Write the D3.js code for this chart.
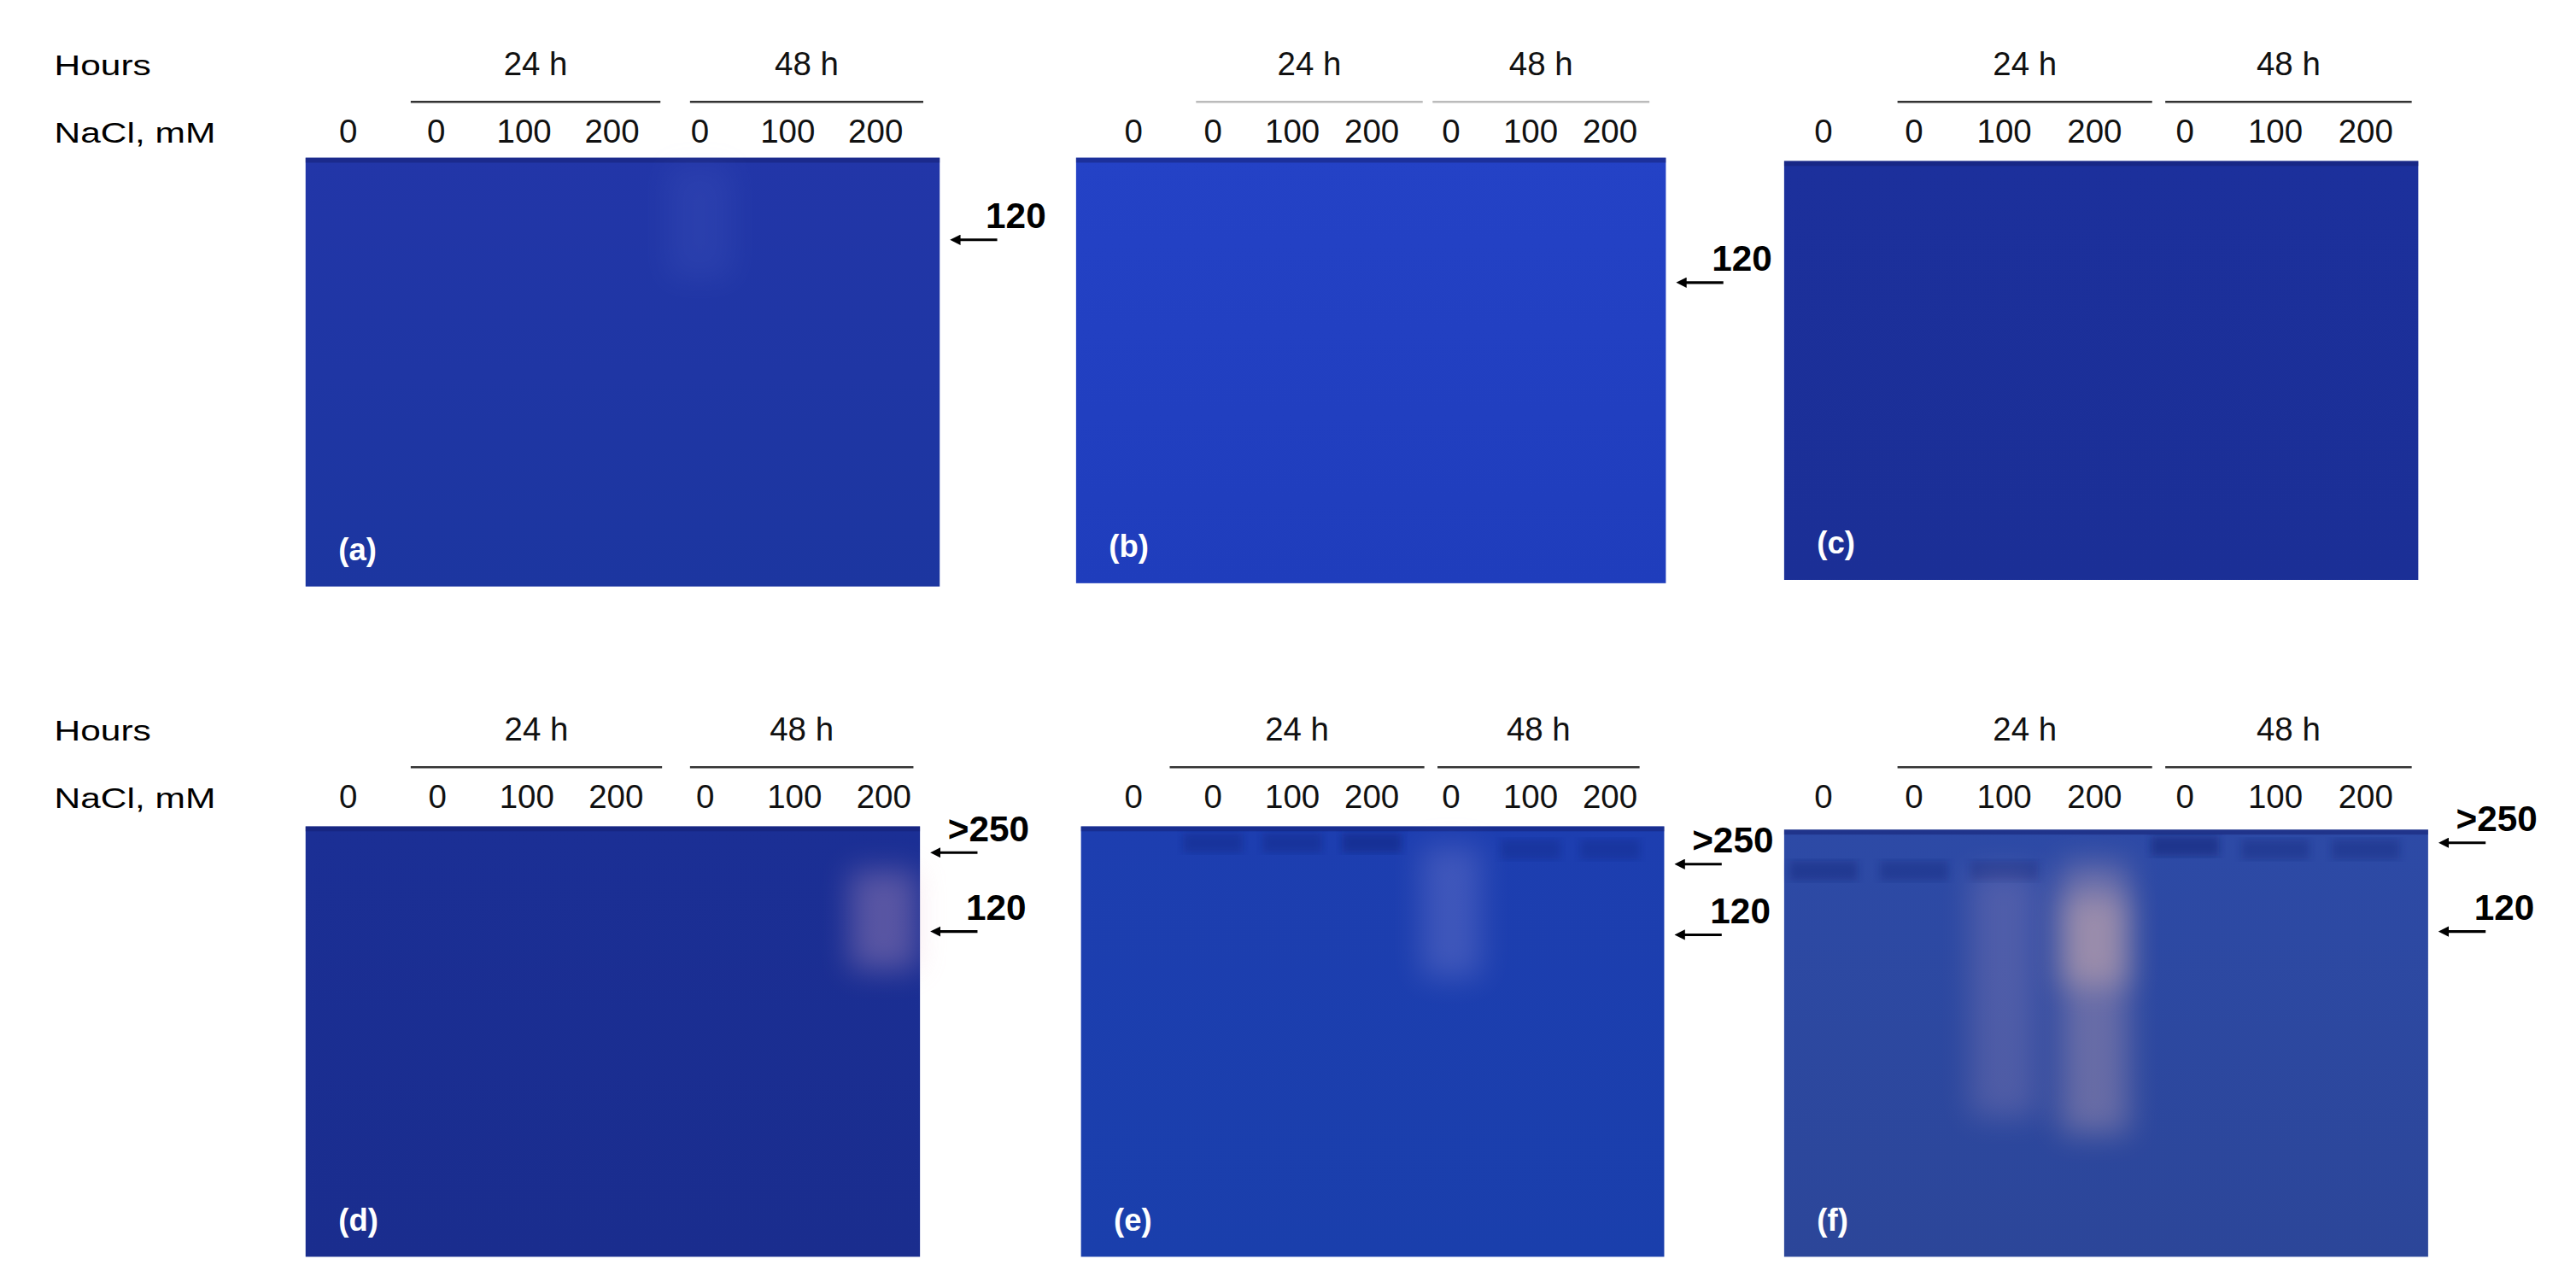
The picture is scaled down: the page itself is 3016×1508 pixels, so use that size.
<!DOCTYPE html>
<head>
  <meta charset="utf-8">
  <title>Zymogram gels</title>
  <style>
    body { margin: 0; background: #fff; }
    text { font-family: Arial, "Liberation Sans", sans-serif; }
  </style>
</head>
<body>
  <script src="https://cdn.jsdelivr.net/npm/d3@7"></script>
  <script>
    // lane labels (same for every panel)
    const lanes = ["0", "0", "100", "200", "0", "100", "200"];
    const panelIds = ["a", "b", "c", "d", "e", "f"];
    // gel box in layout units: x0, x1, y0, y1
    const gelX0 = [186, 655, 1086, 186, 658, 1086];
    const gelX1 = [572, 1014, 1472, 560, 1013, 1478];
    const gelY0 = [96, 96, 98, 503, 503, 505];
    const gelY1 = [357, 355, 353, 765, 765, 765];
    const gelTop = ["#2236a8", "#2442c6", "#1c309c", "#1b2f95", "#1d3eb0", "#2d4aa6"];
    const gelBottom = ["#1c36a0", "#1f3dbc", "#1b2f96", "#1a2d8e", "#1a3fac", "#2c4699"];
    // first and last lane label centre
    const laneFirst = [212, 690, 1110, 212, 690, 1110];
    const laneLast = [533, 980, 1440, 538, 980, 1440];
    // group lines: 24 h and 48 h
    const line24 = [[250, 402], [728, 866], [1155, 1310], [250, 403], [712, 867], [1155, 1310]];
    const line48 = [[420, 562], [872, 1004], [1318, 1468], [420, 556], [875, 998], [1318, 1468]];
    const lineColor = ["#333", "#bbb", "#333", "#333", "#333", "#333"];
    // marker arrows per panel: [label, y]
    const markers = [
      [["120", 146]], [["120", 172]], [],
      [[">250", 519], ["120", 567]], [[">250", 526], ["120", 569]], [[">250", 513], ["120", 567]]
    ];
    // activity smears: [panel, laneIndex, yTop, yBottom, opacity, colour]
    const smears = [
      [0, 4, 100, 170, 0.07, "#9fb0ff"],
      [3, 6, 530, 590, 0.3, "#e8b0c8"],
      [4, 4, 515, 595, 0.2, "#c8b8e8"],
      [5, 2, 530, 680, 0.18, "#e8b8c8"],
      [5, 3, 525, 690, 0.3, "#f0c0b8"],
      [5, 3, 545, 600, 0.35, "#f8c8b0"]
    ];
    // dark high-MW bands: [panel, laneIndex, y, opacity]
    const bands = [
      [4, 1, 513, 0.3], [4, 2, 513, 0.3], [4, 3, 513, 0.4], [4, 5, 517, 0.25], [4, 6, 517, 0.25],
      [5, 0, 530, 0.35], [5, 1, 530, 0.3], [5, 2, 530, 0.3], [5, 4, 515, 0.45], [5, 5, 517, 0.3], [5, 6, 517, 0.3]
    ];

    const W = 1568, H = 784;
    const svg = d3.select("body").append("svg")
      .attr("width", 3016).attr("height", 1508)
      .attr("viewBox", `0 0 ${W} ${H}`);
    const defs = svg.append("defs");
    defs.append("filter").attr("id", "blur").attr("x", "-80%").attr("y", "-50%")
      .attr("width", "260%").attr("height", "200%")
      .append("feGaussianBlur").attr("stdDeviation", 9);
    defs.append("filter").attr("id", "blur2")
      .append("feGaussianBlur").attr("stdDeviation", 2.5);
    const arrowM = defs.append("marker").attr("id", "arrowhead")
      .attr("viewBox", "0 0 10 10").attr("refX", 1).attr("refY", 5)
      .attr("markerWidth", 4).attr("markerHeight", 4).attr("orient", "auto-start-reverse");
    arrowM.append("path").attr("d", "M0,0L10,5L0,10z").attr("fill", "#000");

    const xScales = panelIds.map((p, i) =>
      d3.scalePoint().domain(d3.range(lanes.length)).range([laneFirst[i], laneLast[i]]));

    panelIds.forEach((p, i) => {
      const g = svg.append("g").attr("class", "panel-" + p);
      const grad = defs.append("linearGradient").attr("id", "grad" + i)
        .attr("x1", 0).attr("y1", 0).attr("x2", 0).attr("y2", 1);
      grad.append("stop").attr("offset", 0).attr("stop-color", gelTop[i]);
      grad.append("stop").attr("offset", 1).attr("stop-color", gelBottom[i]);
      g.append("rect")
        .attr("x", gelX0[i]).attr("y", gelY0[i])
        .attr("width", gelX1[i] - gelX0[i]).attr("height", gelY1[i] - gelY0[i])
        .attr("fill", `url(#grad${i})`);
      g.append("rect").attr("x", gelX0[i]).attr("y", gelY0[i])
        .attr("width", gelX1[i] - gelX0[i]).attr("height", 3)
        .attr("fill", "#141e70").attr("opacity", 0.5);

      const x = xScales[i];
      const lw = (laneLast[i] - laneFirst[i]) / 6 * 0.75;
      g.selectAll(".band").data(bands.filter(b => b[0] === i)).join("rect")
        .attr("x", d => x(d[1]) - lw / 2).attr("y", d => d[2] - 6)
        .attr("width", lw).attr("height", 12)
        .attr("fill", "#0d1a70").attr("opacity", d => d[3]).attr("filter", "url(#blur2)");
      g.selectAll(".smear").data(smears.filter(s => s[0] === i)).join("rect")
        .attr("x", d => x(d[1]) - lw / 2).attr("y", d => d[2])
        .attr("width", lw).attr("height", d => d[3] - d[2])
        .attr("fill", d => d[5]).attr("opacity", d => d[4]).attr("filter", "url(#blur)");

      const top = i < 3 ? 0 : 405;
      g.selectAll(".lane").data(lanes).join("text")
        .attr("x", (d, j) => x(j)).attr("y", top + 87)
        .attr("text-anchor", "middle").attr("font-size", 20).attr("fill", "#111")
        .text(d => d);
      [[line24[i], "24 h"], [line48[i], "48 h"]].forEach(([l, t]) => {
        g.append("line").attr("x1", l[0]).attr("x2", l[1])
          .attr("y1", top + 62).attr("y2", top + 62)
          .attr("stroke", lineColor[i]).attr("stroke-width", 1.3);
        g.append("text").attr("x", (l[0] + l[1]) / 2).attr("y", top + 46)
          .attr("text-anchor", "middle").attr("font-size", 20).attr("fill", "#111").text(t);
      });
      g.append("text").attr("x", gelX0[i] + 20).attr("y", gelY1[i] - 16)
        .attr("font-size", 19).attr("font-weight", "bold").attr("fill", "#fff")
        .text(`(${p})`);
      markers[i].forEach(([lab, y]) => {
        g.append("line").attr("x1", gelX1[i] + 35).attr("x2", gelX1[i] + 12)
          .attr("y1", y).attr("y2", y).attr("stroke", "#000").attr("stroke-width", 1.6)
          .attr("marker-end", "url(#arrowhead)");
        g.append("text").attr("x", gelX1[i] + (lab === "120" ? 28 : 17)).attr("y", y - 7)
          .attr("font-size", 22).attr("font-weight", "bold").attr("fill", "#000").text(lab);
      });
    });

    // row headers (horizontally stretched in the original figure)
    [0, 405].forEach(top => {
      svg.append("text").attr("transform", `translate(33,${top + 46}) scale(1.3,1)`)
        .attr("font-size", 17).text("Hours");
      svg.append("text").attr("transform", `translate(33,${top + 87}) scale(1.3,1)`)
        .attr("font-size", 17).text("NaCl, mM");
    });
  </script>
</body>
